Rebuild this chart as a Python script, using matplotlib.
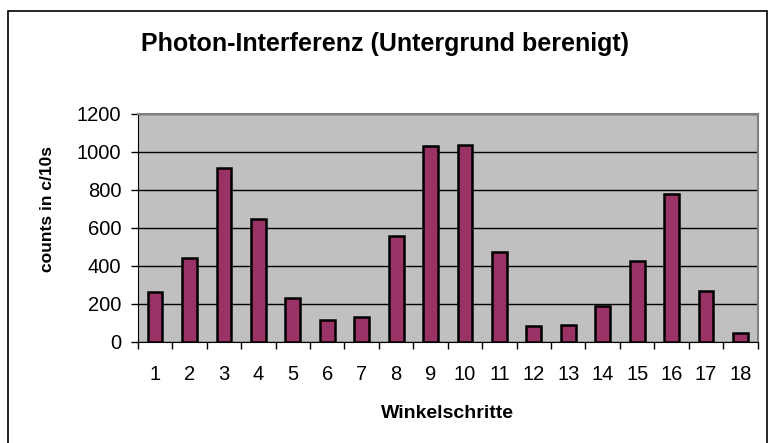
import matplotlib.pyplot as plt
from matplotlib.patches import Rectangle

plt.rcParams['font.family'] = ['Liberation Sans', 'DejaVu Sans']

# Winkelschritte 1..18
steps = [str(i) for i in range(1, 19)]
counts = [260, 438, 915, 645, 232, 111, 127, 556, 1033,
          1038, 471, 81, 88, 185, 424, 777, 269, 44]

fig = plt.figure(figsize=(7.7, 4.43), dpi=100)
ax = fig.add_axes([0.179, 0.229, 0.805, 0.514])

ax.set_facecolor('#c0c0c0')
x = list(range(len(steps)))
ax.bar(x, counts, width=0.43, color='#993366', edgecolor='black', linewidth=1.8, zorder=3)

ax.set_xlim(-0.5, len(steps) - 0.5)
ax.set_ylim(0, 1200)
ax.set_yticks(range(0, 1201, 200))
ax.yaxis.grid(True, color='black', linewidth=1.0, zorder=1)
ax.set_axisbelow(True)

# tick marks between categories, labels in the middle
ax.set_xticks([i - 0.5 for i in range(len(steps) + 1)])
ax.set_xticklabels([])
ax.set_xticks(x, minor=True)
ax.set_xticklabels(steps, minor=True)
ax.tick_params(axis='x', which='minor', length=0, pad=17, labelsize=14.5)
ax.tick_params(axis='x', which='major', length=5, width=1, direction='out')
ax.tick_params(axis='y', length=5, width=1, labelsize=14.5, pad=7)

for side in ['top', 'right']:
    ax.spines[side].set_color('#808080')
    ax.spines[side].set_linewidth(1.5)
ax.spines['left'].set_color('black')
ax.spines['bottom'].set_color('black')

ax.set_xlabel('Winkelschritte', fontsize=14, fontweight='bold', labelpad=15)
ax.set_ylabel('counts in c/10s', fontsize=12.5, fontweight='bold')
ax.yaxis.set_label_coords(-0.134, 0.58)
fig.text(0.5, 0.90, 'Photon-Interferenz (Untergrund berenigt)',
         ha='center', va='center', fontsize=18, fontweight='bold')

# chart border
fig.patches.append(Rectangle((8 / 770, -0.01), 759 / 770, 1 - 11 / 443 + 0.01,
                             transform=fig.transFigure, fill=False,
                             edgecolor='black', linewidth=1.2))

fig.savefig('out.png', dpi=100)
